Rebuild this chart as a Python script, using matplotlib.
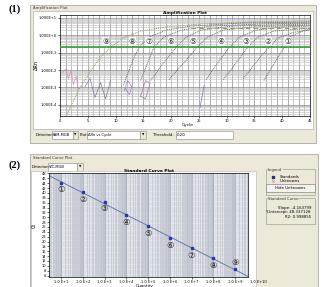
import matplotlib
matplotlib.use("Agg")
import matplotlib.pyplot as plt
from matplotlib.patches import Rectangle
import numpy as np

W, H = 325, 287

# ---------------- Panel 1 data: amplification plot ----------------
amp_cycles = {
    9: [1.3, 3.6, 5.8, 7.3, 9.1, 11.3, 14.5, 19.1, 25.4, 34.5, 45],
    8: [11.4, 13.1, 14.2, 16.0, 19.1, 23.6, 32.7, 45],
    7: [14.5, 15.8, 16.9, 18.7, 21.8, 27.2, 36.3, 45],
    6: [16.3, 18.7, 20.9, 22.7, 25.4, 30.9, 45],
    5: [19.6, 23.0, 24.7, 26.5, 29.4, 34.5, 45],
    4: [26.3, 28.7, 30.5, 32.3, 35.4, 39.9, 45],
    3: [29.4, 32.3, 33.8, 35.6, 38.5, 45],
    2: [33.0, 36.3, 37.7, 39.2, 42.1, 45],
    1: [36.7, 40.0, 40.5, 41.2, 44.1, 45],
}
amp_rn = {
    9: [3.0e-5, 9.8e-4, 0.012, 0.054, 0.206, 0.69, 1.75, 3.0, 4.5, 5.8, 6.7],
    8: [1.3e-3, 0.036, 0.206, 0.785, 2.0, 3.4, 5.1, 5.8],
    7: [0.0025, 0.027, 0.206, 0.785, 2.0, 3.4, 4.5, 5.1],
    6: [0.0025, 0.027, 0.206, 0.785, 2.0, 3.4, 4.5],
    5: [0.0028, 0.047, 0.206, 0.785, 2.0, 3.0, 3.9],
    4: [0.0028, 0.036, 0.206, 0.785, 2.0, 3.0, 3.4],
    3: [0.0028, 0.047, 0.206, 0.785, 1.75, 2.6],
    2: [0.0032, 0.071, 0.206, 0.69, 1.5, 2.0],
    1: [0.0025, 0.138, 0.206, 0.785, 2.0, 2.3],
}
amp_colors = {9: "#8a9a5b", 8: "#606060", 7: "#606060", 6: "#606060", 5: "#606060",
              4: "#606060", 3: "#606060", 2: "#606060", 1: "#606060"}
# label positions (cycle) for circled numbers
label_cycle = [8.2, 13.0, 16.0, 20.0, 24.0, 29.0, 33.5, 37.5, 41.0]
label_names = ["⑨", "⑧", "⑦", "⑥", "⑤", "④", "③", "②", "①"]
label_rn = 0.42

# baseline noise traces
noise_cycles = [
    [0.4, 1.1, 1.5, 2.0, 2.4, 2.9, 3.3, 4.0],
    [4.5, 5.4, 6.3, 7.3, 8.2, 9.1],
    [11.6, 12.2, 12.9, 12.5, 11.8],
    [14.5, 15.4, 16.2, 15.4, 14.5],
    [25.2, 25.6, 25.95],
]
noise_rn = [
    [0.0072, 0.012, 0.0032, 0.0095, 0.0014, 0.0043, 0.00085, 0.0011],
    [0.0011, 0.0032, 0.00026, 0.0019, 0.00022, 0.0025],
    [0.00065, 0.0025, 0.0011, 0.00038, 0.00085],
    [0.0003, 0.0025, 0.0017, 0.00022, 0.0003],
    [6.8e-5, 0.00033, 0.0013],
]
noise_colors = ["#c890b0", "#7a6a9a", "#9a7ab8", "#a06aa8", "#8a5ab0"]
plateau_cycles = [23.6, 45]
plateau_rn = [2.6, 2.6]

threshold = 0.20
amp_yticks = [1e1, 1e0, 1e-1, 1e-2, 1e-3, 1e-4]
amp_ytick_labels = ["1.000E+1", "1.000E+0", "1.000E-1", "1.000E-2", "1.000E-3", "1.000E-4"]
amp_xticks = [0, 5, 10, 15, 20, 25, 30, 35, 40, 45]
amp_xtick_labels = ["0", "5", "10", "15", "20", "25", "30", "35", "40", "45"]

# ---------------- Panel 2 data: standard curve ----------------
std_log_qty = [1, 2, 3, 4, 5, 6, 7, 8, 9]
std_ct = [44.2, 40.2, 36.4, 30.9, 26.2, 21.3, 17.2, 13.3, 8.5]
std_names = ["①", "②", "③", "④", "⑤", "⑥", "⑦", "⑧", "⑨"]
std_yticks = list(range(6, 49, 2))
std_xticks = [1, 2, 3, 4, 5, 6, 7, 8, 9]
std_xtick_labels = ["1.0 E+1", "1.0 E+2", "1.0 E+3", "1.0 E+4", "1.0 E+5",
                    "1.0 E+6", "1.0 E+7", "1.0 E+8", "1.0 E+9"]
slope_text = "Slope: -4.163799"
intercept_text = "Y-Intercept: 48.337128"
r2_text = "R2: 0.998855"

CIRC = ["DejaVu Sans", "Noto Sans CJK JP"]
FS = 3.0

fig = plt.figure(figsize=(W / 100, H / 100), dpi=100)
bg = fig.add_axes([0, 0, 1, 1])
bg.set_xlim(0, W)
bg.set_ylim(H, 0)
bg.axis("off")


def rect(x0, y0, x1, y1, fc, ec="#9a9a9a", lw=0.5, z=1):
    bg.add_patch(Rectangle((x0, y0), x1 - x0, y1 - y0, facecolor=fc, edgecolor=ec, lw=lw, zorder=z))


def txt(x, y, s, fs=FS, **kw):
    bg.text(x, y, s, fontsize=fs, **kw)


def add_ax(x0, y0, x1, y1):
    return fig.add_axes([x0 / W, 1 - y1 / H, (x1 - x0) / W, (y1 - y0) / H])


BEIGE = "#ece9d8"
# panel labels
txt(15, 9, "(1)", fs=7.5, family="Liberation Serif", weight="bold", ha="center", va="center")
txt(15, 165, "(2)", fs=7.5, family="Liberation Serif", weight="bold", ha="center", va="center")

# -------- panel 1 frame --------
rect(30, 5, 316, 143, BEIGE)
txt(33, 7.5, "Amplification Plot", fs=2.8, va="center", color="#333")
rect(33, 11, 313, 129, "white", ec="#b0b0b0")
txt(36, 65, "ΔRn", fs=3.6, rotation=90, ha="center", va="center")
txt(188, 125, "Cycle", fs=3.2, ha="center", va="center")
# controls
txt(36, 135, "Detector:", fs=2.8, va="center")
rect(52, 131, 73, 139, "white")
txt(53, 135, "FAM-MGB", fs=2.6, va="center")
rect(73, 131, 78, 139, BEIGE)
txt(75.5, 135, "▼", fs=2.2, ha="center", va="center")
txt(80, 135, "Plot:", fs=2.8, va="center")
rect(87, 131, 140, 139, "white")
txt(88, 135, "ΔRn vs Cycle", fs=2.6, va="center")
rect(140, 131, 146, 139, BEIGE)
txt(143, 135, "▼", fs=2.2, ha="center", va="center")
txt(153, 135, "Threshold:", fs=2.8, va="center")
rect(176, 131, 233, 139, "white")
txt(177, 135, "0.20", fs=2.8, va="center")

ax1 = add_ax(60, 15, 310, 116)
ax1.set_yscale("log")
ax1.set_xlim(0, 45)
ax1.set_ylim(10 ** -4.65, 10 ** 1.17)
for c in range(1, 45):
    ax1.axvline(c, color="#808080" if c % 2 else "#a8a8a8", lw=0.45, zorder=0)
for d in range(-5, 2):
    for m in range(1, 10):
        v = m * 10.0 ** d
        ax1.axhline(v, color="#7a7a7a" if m == 1 else "#c0c0c0", lw=0.45, zorder=0)
for k in amp_cycles:
    ax1.plot(amp_cycles[k], amp_rn[k], color=amp_colors[k], lw=0.6, ls=(0, (1.2, 1.0)), zorder=2)
for cs, rs, col in zip(noise_cycles, noise_rn, noise_colors):
    ax1.plot(cs, rs, color=col, lw=0.45, zorder=2)
ax1.plot(plateau_cycles, plateau_rn, color="#9aa040", lw=0.8, ls=(0, (4, 3)), zorder=2)
ax1.axhline(threshold, color="#2ea02e", lw=1.2, zorder=3)
for cx, nm in zip(label_cycle, label_names):
    ax1.text(cx, label_rn, nm, fontsize=5.5, family=CIRC, ha="center", va="center", color="#222", zorder=4,
             bbox=dict(facecolor="white", edgecolor="none", pad=0.1, alpha=0.85))
ax1.set_yticks(amp_yticks)
ax1.set_yticklabels(amp_ytick_labels)
ax1.yaxis.set_minor_locator(matplotlib.ticker.NullLocator())
ax1.set_xticks(amp_xticks)
ax1.set_xticklabels(amp_xtick_labels)
ax1.tick_params(labelsize=2.6, length=1.2, width=0.4, pad=1)
ax1.set_title("Amplification Plot", fontsize=3.2, weight="bold", pad=0.3)
for s in ax1.spines.values():
    s.set_linewidth(0.5)

# -------- panel 2 frame --------
rect(30, 154, 318, 288, BEIGE)
txt(33, 158, "Standard Curve Plot", fs=2.8, va="center", color="#333")
txt(32, 167, "Detector:", fs=2.8, va="center")
rect(48, 163, 77, 171, "white")
txt(49, 167, "VIC-MGB", fs=2.6, va="center")
rect(77, 163, 83, 171, BEIGE)
txt(80, 167, "▼", fs=2.2, ha="center", va="center")
rect(31, 171, 256, 288, "white", ec="#c0c0c0")
txt(34, 225, "Ct", fs=3.4, rotation=90, ha="center", va="center")
txt(145, 285.5, "Quantity", fs=3.0, ha="center", va="center")

# legend box
rect(266, 169, 315, 195, BEIGE, ec="#a0a0a0")
txt(268, 170, "Legend", fs=2.8, va="center", color="#333",
    bbox=dict(facecolor=BEIGE, edgecolor="none", pad=0.2))
bg.plot([273], [176.5], marker="s", ms=1.6, color="#22307a", ls="none")
txt(280, 176.5, "Standards", fs=2.8, va="center")
bg.plot([273], [181], marker="x", ms=1.8, mew=0.5, color="#d08a9a", ls="none")
txt(280, 181, "Unknowns", fs=2.8, va="center")
rect(266, 184, 315, 192, "#f4f3ee", ec="#888")
txt(290.5, 188, "Hide Unknowns", fs=2.8, ha="center", va="center")
# standard curve box
rect(266, 198, 315, 224, BEIGE, ec="#a0a0a0")
txt(268, 199, "Standard Curve", fs=2.8, va="center", color="#333",
    bbox=dict(facecolor=BEIGE, edgecolor="none", pad=0.2))
txt(311, 208, slope_text, fs=2.8, ha="right", va="center")
txt(311, 212.5, intercept_text, fs=2.8, ha="right", va="center")
txt(311, 217, r2_text, fs=2.8, ha="right", va="center")

ax2 = add_ax(49, 173, 248, 277)
ax2.set_facecolor("#e8ebef")
qty = [10.0 ** v for v in std_log_qty]
ax2.set_xscale("log")
ax2.set_xlim(10 ** 0.44, 10 ** 9.6)
ax2.set_ylim(5.4, 48.2)
for d in range(0, 10):
    for m in np.arange(1, 10, 0.5):
        v = m * 10.0 ** d
        ax2.axvline(v, color="#8a96a4" if m == 1 else "#b4bcc6", lw=0.4, zorder=0)
for yv in range(5, 49):
    ax2.axhline(yv, color="#c0c6ce", lw=0.35, zorder=0)
coef = np.polyfit(std_log_qty, std_ct, 1)
xl = np.array([0.44, 9.6])
ax2.plot(10 ** xl, np.polyval(coef, xl), color="#6a78b8", lw=0.7, zorder=2)
ax2.plot(qty, std_ct, ls="none", marker="s", ms=1.6, color="#2a38a0", zorder=3)
for q, c, nm in zip(qty, std_ct, std_names):
    dy = 5.2 if nm == "⑨" else -5.2
    ax2.annotate(nm, (q, c), xytext=(0, dy), textcoords="offset points", fontsize=6,
                 family=CIRC, ha="center", va="center", color="#222", zorder=4)
ax2.set_xticks(qty)
ax2.set_xticklabels(std_xtick_labels)
ax2.xaxis.set_minor_locator(matplotlib.ticker.NullLocator())
ax2.set_yticks(std_yticks)
ax2.tick_params(labelsize=2.6, length=1.2, width=0.4, pad=1)
ax2.text(1.01, -0.025, "1.0 E+10", transform=ax2.transAxes, fontsize=2.6, ha="left", va="top")
ax2.set_title("Standard Curve Plot", fontsize=3.2, weight="bold", pad=0.3)
for s in ax2.spines.values():
    s.set_linewidth(0.5)

fig.savefig("out.png", dpi=100)
